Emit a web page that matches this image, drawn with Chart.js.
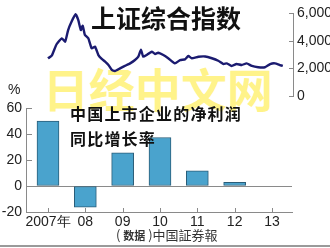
<!DOCTYPE html>
<html><head><meta charset="utf-8">
<script src="https://cdn.jsdelivr.net/npm/chart.js@4"></script>
<style>
html,body{margin:0;padding:0;background:#fff;}
#wrap{position:relative;width:330px;height:248px;overflow:hidden;background:#fff;}
canvas{position:absolute;left:0;top:0;}
.t{position:absolute;white-space:nowrap;font-family:"Noto Sans CJK SC","Noto Sans",sans-serif;line-height:1;}
#wm{left:43px;top:64px;font-size:46px;color:#fff38a;font-weight:700;}
#title1{left:91px;top:5px;font-size:25px;font-weight:700;color:#111;}
#title2{left:70px;top:101px;font-size:16px;font-weight:700;color:#111;letter-spacing:1.2px;line-height:25px;}
#pct{left:8px;top:82px;font-size:14px;color:#222;font-family:"Liberation Sans",Arial,sans-serif;}
#src{left:116px;top:228px;font-size:13px;color:#333;}
#src .s{font-size:11px;font-weight:700;}
#rule{position:absolute;left:0;top:245px;width:330px;height:2px;background:#9a9a9a;}
</style></head>
<body><div id="wrap">
<div class="t" id="wm">日经中文网</div>
<canvas id="c1" width="330" height="248"></canvas>
<canvas id="c2" width="330" height="248"></canvas>
<div class="t" id="title1">上证综合指数</div>
<div class="t" id="title2">中国上市企业的净利润<br>同比增长率</div>
<div class="t" id="pct">%</div>
<div class="t" id="src">( <span class="s">数据</span> )中国証券報</div>
<div id="rule"></div>
</div>
<script>
// ---- Data ----
const sseDates = [2007.00,2007.10,2007.23,2007.37,2007.46,2007.54,2007.63,2007.74,2007.81,2007.88,2007.93,2007.99,
  2008.08,2008.17,2008.26,2008.35,2008.44,2008.53,2008.62,2008.71,2008.79,2008.93,
  2009.11,2009.20,2009.33,2009.42,2009.49,2009.55,2009.64,2009.78,2009.87,2009.95,
  2010.09,2010.22,2010.40,2010.54,2010.67,2010.76,2010.85,2011.03,2011.21,2011.39,2011.56,2011.70,2011.79,2011.92,
  2012.05,2012.19,2012.32,2012.46,2012.63,2012.81,2012.95,2013.08,2013.21,2013.29];
const sseValues = [2720,2910,3740,4170,3930,4770,5370,5910,5500,4770,5080,4410,
  4170,3450,3570,2960,2680,2480,2240,1880,1810,2000,
  2240,2360,2600,2840,3350,2840,2960,3200,3040,3130,
  2960,2730,2360,2600,2650,2890,2730,2840,2860,2730,2550,2310,2360,2170,
  2310,2240,2360,2170,2080,2080,2310,2360,2240,2170];
const indexTicks = [0,2000,4000,6000];
const years = ['2007年','08','09','10','11','12','13'];
const profitGrowth = [50,-16.3,25.5,37.3,11.7,2.8,null];
const growthTicks = [-20,0,20,40,60];

const FONT = '"Liberation Sans",Arial,sans-serif';
Chart.defaults.font.family = FONT;
Chart.defaults.font.size = 14;
Chart.defaults.color = '#222';
const AX = '#8a8a8a';

const inTicks = {
  id:'inTicks',
  afterDraw(chart, args, opts){
    const ctx = chart.ctx; ctx.save(); ctx.strokeStyle = AX; ctx.lineWidth = 1;
    (opts.list||[]).forEach(([id,len])=>{
      const s = chart.scales[id];
      s.ticks.forEach((t,i)=>{
        const p = Math.round(s.getPixelForTick(i))+0.5;
        ctx.beginPath();
        if (s.axis==='y' && s.position==='left'){ ctx.moveTo(s.right, p); ctx.lineTo(s.right+len, p); }
        else if (s.axis==='y'){ ctx.moveTo(s.left, p); ctx.lineTo(s.left-len, p); }
        else { ctx.moveTo(p, s.top); ctx.lineTo(p, s.top-len); }
        ctx.stroke();
      });
    });
    ctx.restore();
  }
};

// ---- Top: index line ----
new Chart(document.getElementById('c1'), {
  type:'line',
  data:{datasets:[{data: sseDates.map((d,i)=>({x:d,y:sseValues[i]})), borderColor:'#1b1b70', borderWidth:2.4, pointRadius:0, tension:0.15, fill:false}]},
  options:{
    responsive:false, animation:false, devicePixelRatio:1,
    layout:{padding:{left:26,right:0,top:13,bottom:152}},
    plugins:{legend:{display:false}, tooltip:{enabled:false}, inTicks:{list:[['y',4]]}},
    scales:{
      x:{type:'linear', display:false, min:2006.411, max:2013.563},
      y:{position:'right', min:0, max:6000,
         afterFit(s){ s.width = 37; },
         afterBuildTicks(s){ s.ticks = indexTicks.map(v=>({value:v})); },
         grid:{drawOnChartArea:false, drawTicks:false},
         border:{display:true, color:AX, width:1},
         ticks:{padding:4, color:'#222', font:{size:14}}}
    }
  },
  plugins:[inTicks]
});

// ---- Bottom: growth bars ----
new Chart(document.getElementById('c2'), {
  type:'bar',
  data:{datasets:[{data: profitGrowth.map((v,i)=>({x:i,y:v})).filter(p=>p.y!==null),
    backgroundColor:'#4aa3cd', borderColor:'#2a5d78', borderWidth:1, barThickness:22, borderSkipped:false}]},
  options:{
    responsive:false, animation:false, devicePixelRatio:1,
    layout:{padding:{left:0,right:38,top:108,bottom:0}},
    plugins:{legend:{display:false}, tooltip:{enabled:false}, inTicks:{list:[['y',6],['x',4]]}},
    scales:{
      x:{type:'linear', min:-0.589, max:6.536, offset:false,
         afterFit(s){ s.height = 36; },
         afterBuildTicks(s){ s.ticks = years.map((y,i)=>({value:i})); },
         grid:{drawOnChartArea:false, drawTicks:false},
         border:{display:true, color:AX, width:1},
         ticks:{autoSkip:false, maxRotation:0, padding:2, callback:(v)=>years[v], color:'#222', font:{size:14}}},
      y:{min:-20, max:60,
         afterFit(s){ s.width = 26; },
         afterBuildTicks(s){ s.ticks = growthTicks.map(v=>({value:v})); },
         grid:{drawOnChartArea:true, drawTicks:false, color:(c)=>c.tick && c.tick.value===0 ? AX : 'rgba(0,0,0,0)'},
         border:{display:true, color:AX, width:1},
         ticks:{padding:4, color:'#222', font:{size:14}}}
    }
  },
  plugins:[inTicks]
});
</script>
</body></html>
